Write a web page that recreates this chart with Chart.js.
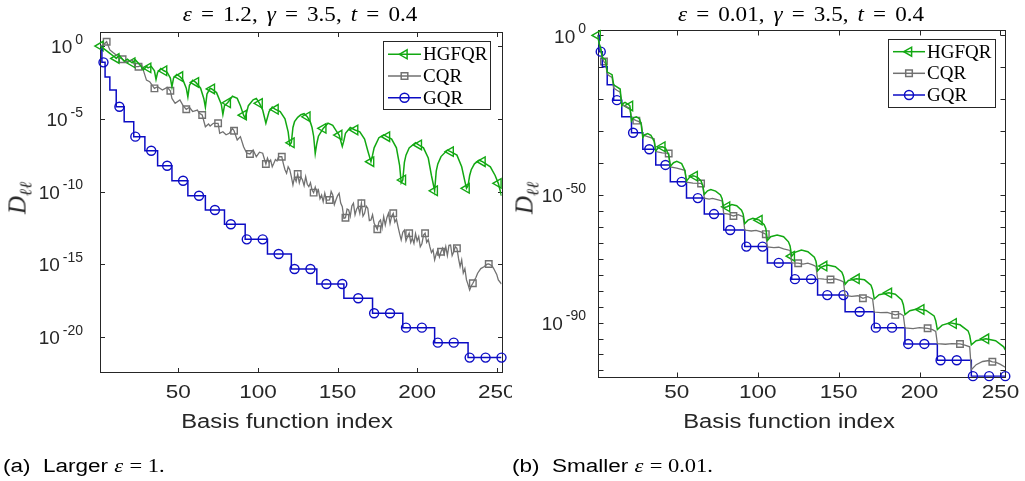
<!DOCTYPE html>
<html>
<head>
<meta charset="utf-8">
<script src="https://cdn.jsdelivr.net/npm/chart.js"></script>
<style>
  html, body { margin: 0; padding: 0; background: #fff; }
  body { width: 1025px; height: 481px; position: relative; overflow: hidden;
         font-family: "Liberation Sans", Arial, sans-serif; color: #262626; }
  canvas { position: absolute; top: 0; }
  .lbl { position: absolute; white-space: nowrap; transform: translate(-50%, -50%); }
  .ttl { font-family: "Liberation Serif", serif; font-size: 21px; color: #000; word-spacing: 3px;
         transform: translate(-50%, -50%) scaleX(1.1); }
  .xt { font-size: 20px; transform: translate(-50%, -50%) scaleX(1.19); }
  .yt { font-family: "Liberation Serif", serif; font-style: italic; font-size: 25px;
        transform: translate(-50%, -50%) rotate(-90deg); color: #262626; }
  .yt sub { font-size: 17px; }
  .cap { font-size: 18px; color: #000; transform: translate(0, -50%) scaleX(1.25); transform-origin: left center; }
  .m { font-family: "Liberation Serif", serif; }
</style>
</head>
<body>
<canvas id="chartA" width="512" height="481" style="left:0"></canvas>
<canvas id="chartB" width="513" height="481" style="left:512px"></canvas>

<div class="lbl ttl" style="left:300px;top:14px"><i>ε</i> = 1.2, <i>γ</i> = 3.5, <i>t</i> = 0.4</div>
<div class="lbl ttl" style="left:801px;top:14px"><i>ε</i> = 0.01, <i>γ</i> = 3.5, <i>t</i> = 0.4</div>
<div class="lbl yt" style="left:20px;top:198px">D<sub>ℓℓ</sub></div>
<div class="lbl yt" style="left:527px;top:198px">D<sub>ℓℓ</sub></div>
<div class="lbl xt" style="left:287px;top:421px">Basis function index</div>
<div class="lbl xt" style="left:789px;top:421px">Basis function index</div>
<div class="lbl cap" style="left:3px;top:466px">(a)&nbsp; Larger <i class="m">ε</i> <span class="m">= 1.</span></div>
<div class="lbl cap" style="left:512px;top:466px">(b)&nbsp; Smaller <i class="m">ε</i> <span class="m">= 0.01.</span></div>

<script>
// every pair is [basis function index, log10(D_ll)]

// ---- (a) eps = 1.2 ----
const gqrA = [[1,0],[2,-1.12],[4,-2.13],[7,-3.02],[11,-4.17],[16,-5.2],[22,-6.23],[29,-7.2],[37,-8.23],
  [46,-9.26],[56,-10.29],[67,-11.27],[79,-12.25],[92,-13.29],[106,-14.3],[121,-15.33],[137,-16.36],
  [154,-17.34],[172,-18.37],[191,-19.36],[211,-20.39],[232,-21.42],[253,-21.42]];
const gqrAMarks = [[3,-1.12],[13,-4.17],[23,-6.23],[33,-7.2],[43,-8.23],[53,-9.26],[63,-10.29],[73,-11.27],
  [83,-12.25],[93,-13.29],[103,-13.29],[113,-14.3],[123,-15.33],[133,-15.33],[143,-16.36],[153,-16.36],
  [163,-17.34],[173,-18.37],[183,-18.37],[193,-19.36],[203,-19.36],[213,-20.39],[223,-20.39],
  [233,-21.42],[243,-21.42],[253,-21.42]];

const cqrA = [[1,0],[3,0.1],[5,0.3],[7,-0.27],[9,-0.45],[11,-0.62],[13,-0.8],[15,-0.91],[17,-1.08],[21,-0.96],
  [23,-1.42],[25,-1.42],[27,-1.31],[30,-2.34],[32,-2.45],[35,-2.91],[37,-2.8],[40,-3.02],[43,-2.84],[45,-3.07],
  [46,-3.6],[48,-3.94],[51,-3.71],[53,-4.1],[55,-4.35],[57,-4.21],[59,-4.5],[62,-4.4],[63,-4.6],[65,-4.74],
  [67,-5.55],[69,-5.36],[70,-5.5],[72,-5.31],[75,-5.31],[76,-6.0],[78,-5.89],[80,-6.1],[82,-6.0],[84,-5.66],
  [85,-5.82],[87,-6.46],[89,-6.23],[91,-6.92],[93,-7.37],[95,-7.42],[97,-7.15],[99,-7.61],[101,-7.3],[103,-7.37],
  [105,-8.11],[106,-7.7],[107,-8.0],[108,-7.84],[109,-8.3],[110,-8.06],[111,-7.8],[112,-7.9],[113,-7.61],
  [115,-7.61],[116,-8.1],[117,-8.5],[118,-8.75],[119,-8.3],[120,-8.5],[121,-8.98],[122,-9.55],[123,-9.0],
  [124,-9.3],[125,-8.8],[126,-9.4],[127,-9.0],[128,-9.21],[129,-9.6],[130,-8.98],[131,-9.5],[132,-9.67],
  [133,-9.4],[134,-9.9],[135,-10.08],[136,-9.7],[137,-10.1],[138,-9.9],[139,-10.5],[140,-10.24],[141,-10.7],
  [142,-10.12],[143,-10.6],[145,-10.58],[146,-10.0],[147,-10.24],[148,-10.9],[149,-10.58],[150,-10.3],
  [151,-10.12],[152,-10.8],[153,-11.04],[154,-11.84],[155,-11.8],[156,-11.2],[157,-11.27],[158,-11.7],
  [159,-11.0],[160,-10.81],[161,-11.6],[162,-11.2],[163,-11.04],[164,-11.5],[165,-10.81],[166,-11.7],
  [167,-11.5],[168,-11.0],[169,-11.15],[170,-12.0],[171,-11.96],[172,-11.6],[173,-12.19],[174,-12.4],
  [175,-12.6],[176,-12.1],[177,-11.96],[178,-12.5],[179,-11.73],[180,-12.3],[181,-11.8],[182,-11.5],
  [183,-12.2],[184,-11.7],[185,-11.5],[186,-12.1],[187,-11.9],[188,-12.42],[189,-12.9],[190,-13.33],
  [191,-12.8],[192,-12.65],[193,-13.4],[194,-13.1],[195,-12.87],[196,-13.5],[197,-13.2],[198,-13.56],
  [199,-12.9],[200,-13.4],[201,-13.1],[202,-13.8],[203,-13.6],[204,-13.0],[205,-12.87],[206,-13.5],
  [207,-13.3],[208,-13.79],[209,-14.2],[210,-14.0],[211,-14.7],[212,-14.3],[213,-14.02],[214,-14.5],
  [215,-14.14],[216,-13.9],[217,-14.3],[218,-13.79],[219,-14.4],[220,-13.7],[221,-13.68],[222,-14.4],
  [223,-14.14],[224,-13.8],[225,-13.9],[226,-14.6],[227,-15.17],[228,-14.7],[229,-15.6],[230,-15.3],
  [231,-16.08],[232,-16.4],[233,-16.77],[234,-16.5],[235,-16.31],[237,-15.9],[238,-15.62],[240,-15.3],
  [242,-15.17],[244,-15.0],[245,-14.98],[247,-15.1],[248,-15.28],[250,-15.7],[251,-16.08],[253,-16.36]];
const cqrAMarks = [[5,0.3],[15,-0.91],[25,-1.42],[35,-2.91],[45,-3.07],[55,-4.35],[65,-4.74],[75,-5.31],
  [85,-5.82],[95,-7.42],[105,-8.11],[115,-7.61],[125,-8.8],[135,-10.08],[145,-10.58],[155,-11.8],[165,-10.81],
  [175,-12.6],[185,-11.5],[195,-12.87],[205,-12.87],[215,-14.14],[225,-13.9],[235,-16.31],[245,-14.98]];

const hgfqrA = [[1,0],[4,-0.25],[7,-0.5],[10,-0.75],[11,-0.85],[13,-0.65],[16,-1.05],[18,-0.9],[21,-1.15],
  [23,-0.95],[26,-1.3],[28,-1.65],[30,-1.4],[31,-1.5],[33,-1.4],[35,-1.7],[36,-2.3],[37,-1.8],[39,-1.55],
  [41,-1.7],[43,-1.8],[45,-2.2],[46,-2.8],[47,-2.2],[49,-1.95],[51,-2.1],[53,-2.35],[55,-2.9],[56,-3.5],
  [57,-2.7],[59,-2.35],[61,-2.5],[64,-2.9],[66,-3.6],[67,-4.2],[68,-3.3],[70,-2.9],[71,-2.95],[74,-3.2],
  [77,-4.0],[78,-4.7],[79,-4.1],[81,-3.9],[84,-3.45],[87,-3.6],[89,-4.1],[91,-4.75],[92,-4.95],[94,-4.1],
  [97,-3.7],[99,-3.6],[101,-3.94],[103,-4.4],[105,-5.3],[107,-4.5],[109,-4.2],[111,-4.35],[114,-4.5],
  [117,-5.0],[119,-5.9],[120,-6.8],[121,-6.65],[122,-5.6],[123,-5.2],[125,-4.9],[127,-4.72],[129,-4.65],
  [131,-4.86],[133,-5.25],[134,-5.6],[135,-6.2],[136,-7.4],[137,-6.7],[138,-6.2],[141,-5.66],[144,-5.3],
  [147,-5.45],[149,-5.8],[151,-6.12],[153,-6.9],[154,-6.5],[155,-6.0],[158,-5.6],[161,-5.77],[164,-5.9],
  [167,-6.4],[169,-7.2],[171,-7.95],[172,-7.5],[173,-7.0],[176,-6.3],[179,-6.1],[181,-6.23],[184,-6.4],
  [187,-7.0],[189,-8.2],[190,-9.4],[191,-9.21],[192,-8.0],[193,-7.5],[195,-7.0],[199,-6.65],[201,-6.8],
  [204,-7.0],[207,-7.7],[209,-8.9],[211,-9.95],[212,-8.6],[213,-8.1],[215,-7.6],[219,-7.15],[221,-7.26],
  [225,-7.5],[228,-8.3],[230,-9.3],[231,-9.78],[232,-9.6],[233,-8.9],[234,-8.5],[236,-8.1],[239,-7.85],
  [241,-7.95],[246,-8.3],[249,-8.9],[251,-9.44],[253,-10.3]];
const hgfqrAMarks = [[1,0],[11,-0.85],[21,-1.15],[31,-1.5],[41,-1.7],[51,-2.1],[61,-2.5],[71,-2.95],
  [81,-3.9],[91,-4.75],[101,-3.94],[111,-4.35],[121,-6.65],[131,-4.86],[141,-5.66],[151,-6.12],[161,-5.77],
  [171,-7.95],[181,-6.23],[191,-9.21],[201,-6.8],[211,-9.95],[221,-7.26],[231,-9.78],[241,-7.95],[251,-9.44]];

// ---- (b) eps = 0.01 ----
const gqrB = [[1,0],[2,-5.1],[4,-9.8],[7,-15.5],[11,-20.3],[16,-25.5],[22,-30.5],[29,-35.7],[37,-40.6],
  [46,-45.9],[56,-51],[67,-56],[79,-61],[92,-66.2],[106,-71.3],[121,-76.4],[137,-81.4],[154,-86.6],
  [172,-91.6],[191,-96.7],[211,-101.8],[232,-106.8],[253,-106.8]];
const gqrBMarks = [[3,-5.1],[13,-20.3],[23,-30.5],[33,-35.7],[43,-40.6],[53,-45.9],[63,-51],[73,-56],
  [83,-61],[93,-66.2],[103,-66.2],[113,-71.3],[123,-76.4],[133,-76.4],[143,-81.4],[153,-81.4],[163,-86.6],
  [173,-91.6],[183,-91.6],[193,-96.7],[203,-96.7],[213,-101.8],[223,-101.8],[233,-106.8],[243,-106.8],
  [253,-106.8]];

const cqrB = [[1,0],[2,-2.5],[3,-4.5],[4,-7.0],[5,-8.2],[6,-8.8],[7,-12.0],[8,-12.6],[10,-13.2],[11,-16.5],
  [13,-17.2],[15,-17.8],[16,-21.5],[18,-22.2],[21,-22.8],[22,-26.0],[25,-26.7],[28,-27.3],[29,-31.2],
  [32,-31.7],[36,-32.4],[37,-36.4],[41,-36.8],[45,-37.0],[46,-41.2],[50,-41.6],[55,-42.3],[56,-46.0],
  [60,-46.3],[65,-46.4],[66,-46.9],[67,-51.0],[70,-51.3],[72,-51.1],[75,-51.5],[78,-51.9],[79,-55.8],
  [82,-56.0],[85,-56.6],[88,-56.2],[91,-56.8],[92,-61.0],[96,-61.3],[99,-61.1],[102,-61.6],[105,-62.3],
  [106,-66.3],[110,-66.5],[113,-66.4],[116,-66.9],[120,-67.4],[121,-71.3],[125,-71.4],[128,-71.7],
  [131,-71.4],[134,-71.9],[136,-72.4],[137,-76.2],[141,-76.4],[145,-76.5],[148,-76.3],[151,-76.8],
  [153,-77.3],[154,-81.5],[158,-81.8],[162,-81.6],[165,-82.4],[168,-81.9],[171,-82.6],[172,-86.7],
  [176,-86.9],[180,-86.8],[185,-87.6],[188,-87.2],[190,-87.8],[191,-91.7],[196,-91.9],[200,-91.6],
  [205,-91.8],[208,-92.2],[210,-92.8],[211,-96.6],[216,-96.8],[220,-96.6],[225,-96.7],[228,-97.1],
  [231,-97.6],[232,-104.8],[235,-103.2],[239,-102.2],[243,-101.9],[245,-102.3],[247,-102.4],[250,-103.1],
  [253,-104.0]];
const cqrBMarks = [[5,-8.2],[25,-26.7],[45,-37.0],[65,-46.4],[85,-56.6],[105,-62.3],[125,-71.4],[145,-76.5],
  [165,-82.4],[185,-87.6],[205,-91.8],[225,-96.7],[245,-102.3]];

const hgfqrB = [[1,0],[2,-2.5],[3,-4.0],[4,-7.0],[6,-7.6],[7,-11.5],[10,-12.3],[11,-15.5],[15,-16.8],
  [16,-22.0],[17,-21.3],[18,-21.0],[20,-21.6],[21,-22.1],[22,-26.8],[23,-25.9],[25,-25.5],[27,-26.2],
  [28,-28.0],[29,-32.0],[30,-31.2],[32,-30.8],[34,-31.3],[36,-33.2],[37,-36.2],[39,-35.0],[41,-34.9],
  [43,-35.3],[45,-37.5],[46,-41.0],[48,-39.9],[50,-39.5],[53,-40.2],[55,-42.3],[56,-45.6],[58,-44.4],
  [60,-44.0],[61,-44.1],[63,-44.6],[65,-45.6],[66,-47.0],[67,-49.8],[69,-48.7],[71,-48.3],[74,-48.8],
  [77,-50.0],[78,-51.2],[79,-54.0],[81,-53.7],[84,-53.0],[87,-53.4],[90,-54.8],[91,-56.0],[92,-59.0],
  [94,-57.9],[97,-57.3],[101,-57.9],[104,-59.3],[105,-60.5],[106,-64.3],[108,-63.1],[112,-62.6],
  [116,-63.1],[119,-64.7],[120,-66.0],[121,-69.2],[123,-68.0],[127,-67.3],[131,-67.8],[135,-69.5],
  [136,-70.8],[137,-73.8],[139,-72.7],[141,-72.3],[143,-72.0],[148,-72.5],[152,-74.2],[153,-75.5],
  [154,-78.0],[156,-76.8],[161,-76.3],[166,-76.6],[170,-78.3],[171,-79.7],[172,-82.6],[175,-81.3],
  [181,-80.7],[185,-81.1],[189,-82.9],[190,-84.4],[191,-87.5],[194,-86.3],[199,-85.7],[201,-85.9],
  [204,-86.2],[209,-87.9],[210,-89.4],[211,-92.2],[214,-90.8],[219,-90.1],[221,-90.3],[225,-90.7],
  [230,-92.6],[231,-94.0],[232,-97.0],[235,-95.7],[241,-95.1],[247,-95.7],[252,-97.6],[253,-98.6]];
const hgfqrBMarks = [[1,0],[21,-22.1],[41,-34.9],[61,-44.1],[81,-53.7],[101,-57.9],[121,-69.2],[141,-72.3],
  [161,-76.3],[181,-80.7],[201,-85.9],[221,-90.3],[241,-95.1]];

// axes
const xTicks = [50, 100, 150, 200, 250];
const yTickExpA = [0, -5, -10, -15, -20];
const yLabelExpA = [0, -5, -10, -15, -20];
const yTickExpB = [0, -10, -20, -30, -40, -50, -55, -60, -65, -70, -75, -80, -85, -90, -95, -100, -105];
const yLabelExpB = [0, -50, -90];
const seriesNames = ['HGFQR', 'CQR', 'GQR'];

const GREEN = '#12a812', GRAY = '#717171', BLUE = '#0c0cc4', AXIS = '#262626';

function pts(arr) {
  return arr.map(p => ({ x: p[0], y: Math.pow(10, p[1]) }));
}

function drawMarker(ctx, kind, x, y) {
  ctx.beginPath();
  if (kind === 'tri') {
    const r = 5.2;
    ctx.moveTo(x - r, y);
    ctx.lineTo(x + r * 0.5, y - r * 0.866);
    ctx.lineTo(x + r * 0.5, y + r * 0.866);
    ctx.closePath();
  } else if (kind === 'sq') {
    ctx.rect(x - 3.3, y - 3.3, 6.6, 6.6);
  } else {
    ctx.arc(x, y, 4.5, 0, Math.PI * 2);
  }
  ctx.stroke();
}

// frame, inward ticks, tick labels and legend box
const panelDeco = {
  id: 'panelDeco',
  beforeDatasetsDraw(chart, args, o) {
    const { ctx, chartArea: a, scales: { x, y } } = chart;
    const L = Math.round(a.left) + 0.5, R = Math.round(a.right) + 0.5;
    const T = Math.round(a.top) + 0.5, B = Math.round(a.bottom) + 0.5;
    ctx.save();
    ctx.strokeStyle = AXIS;
    ctx.lineWidth = 1;
    ctx.strokeRect(L, T, R - L, B - T);
    ctx.beginPath();
    xTicks.forEach(v => {
      const px = Math.round(x.getPixelForValue(v)) + 0.5;
      ctx.moveTo(px, B); ctx.lineTo(px, B - o.tick);
      ctx.moveTo(px, T); ctx.lineTo(px, T + o.tick);
    });
    o.yTicks.forEach(e => {
      const py = Math.round(y.getPixelForValue(Math.pow(10, e))) + 0.5;
      ctx.moveTo(L, py); ctx.lineTo(L + o.tick, py);
      ctx.moveTo(R, py); ctx.lineTo(R - o.tick, py);
    });
    ctx.stroke();

    ctx.fillStyle = AXIS;
    ctx.textBaseline = 'middle';
    ctx.textAlign = 'center';
    ctx.font = '18px "Liberation Sans", Arial, sans-serif';
    xTicks.forEach(v => {
      ctx.save();
      ctx.translate(x.getPixelForValue(v), o.xLabelY);
      ctx.scale(1.25, 1);
      ctx.fillText(String(v), 0, 0);
      ctx.restore();
    });
    ctx.textAlign = 'left';
    o.yLabels.forEach(e => {
      const py = y.getPixelForValue(Math.pow(10, e));
      const ex = String(e);
      ctx.font = '14px "Liberation Sans", Arial, sans-serif';
      const wE = ctx.measureText(ex).width;
      ctx.fillText(ex, o.yLabelRight - wE, py - 6);
      ctx.font = '19px "Liberation Sans", Arial, sans-serif';
      const wB = ctx.measureText('10').width;
      ctx.fillText('10', o.yLabelRight - wE - 3 - wB, py + 2);
    });
    ctx.restore();
  },
  afterDatasetsDraw(chart, args, o) {
    const ctx = chart.ctx;
    const g = o.legend;
    ctx.save();
    ctx.fillStyle = '#fff';
    ctx.fillRect(g.x, g.y, g.w, g.h);
    ctx.strokeStyle = AXIS;
    ctx.lineWidth = 1;
    ctx.strokeRect(g.x + 0.5, g.y + 0.5, g.w, g.h);
    const cols = [GREEN, GRAY, BLUE], kinds = ['tri', 'sq', 'circ'];
    seriesNames.forEach((name, k) => {
      const yy = g.rows[k];
      ctx.strokeStyle = cols[k];
      ctx.lineWidth = 1.5;
      ctx.beginPath();
      ctx.moveTo(g.lx0, yy); ctx.lineTo(g.lx1, yy);
      ctx.stroke();
      drawMarker(ctx, kinds[k], (g.lx0 + g.lx1) / 2, yy);
      ctx.fillStyle = '#000';
      ctx.font = '19px "Liberation Serif", serif';
      ctx.textBaseline = 'middle';
      ctx.fillText(name, g.tx, yy + 1);
    });
    ctx.restore();
  }
};

function datasets(h, hm, c, cm, q, qm) {
  const line = (data, col, extra) => Object.assign({ data: pts(data), borderColor: col, borderWidth: 1.5,
    pointRadius: 0, fill: false, tension: 0 }, extra || {});
  const marks = (data, col, style, r, rot) => ({ data: pts(data), showLine: false, borderColor: col,
    pointBorderColor: col, pointBackgroundColor: 'rgba(0,0,0,0)', pointStyle: style, pointRadius: r,
    pointBorderWidth: 1.4, rotation: rot || 0, clip: false });
  return [
    line(h, GREEN), line(c, GRAY, { borderWidth: 1.3 }), line(q, BLUE, { stepped: true }),
    marks(hm, GREEN, 'triangle', 5.5, -90), marks(cm, GRAY, 'rect', 4.6), marks(qm, BLUE, 'circle', 4.5)
  ];
}

function makeChart(id, ds, pad, yMinExp, yMaxExp, deco) {
  return new Chart(document.getElementById(id), {
    type: 'line',
    data: { datasets: ds },
    options: {
      responsive: false,
      animation: false,
      events: [],
      layout: { padding: pad },
      plugins: { legend: { display: false }, tooltip: { enabled: false }, panelDeco: deco },
      scales: {
        x: { type: 'linear', min: 1, max: 253, display: false },
        y: { type: 'logarithmic', min: Math.pow(10, yMinExp), max: Math.pow(10, yMaxExp), display: false }
      }
    },
    plugins: [panelDeco]
  });
}

makeChart('chartA', datasets(hgfqrA, hgfqrAMarks, cqrA, cqrAMarks, gqrA, gqrAMarks),
  { left: 100.3, right: 10.5, top: 31.5, bottom: 108.7 }, -22.43, 1,
  { tick: 4.5, yTicks: yTickExpA, yLabels: yLabelExpA, yLabelRight: 83, xLabelY: 393,
    legend: { x: 383, y: 41, w: 107, h: 68, rows: [54.3, 76, 97.7], lx0: 388, lx1: 421, tx: 423 } });

makeChart('chartB', datasets(hgfqrB, hgfqrBMarks, cqrB, cqrBMarks, gqrB, gqrBMarks),
  { left: 85.5, right: 19.7, top: 30, bottom: 104.2 }, -107, 1.69,
  { tick: 5, yTicks: yTickExpB, yLabels: yLabelExpB, yLabelRight: 74, xLabelY: 393,
    legend: { x: 376, y: 39, w: 107, h: 68, rows: [51.7, 73.3, 95], lx0: 381, lx1: 413, tx: 415 } });
</script>
</body>
</html>
